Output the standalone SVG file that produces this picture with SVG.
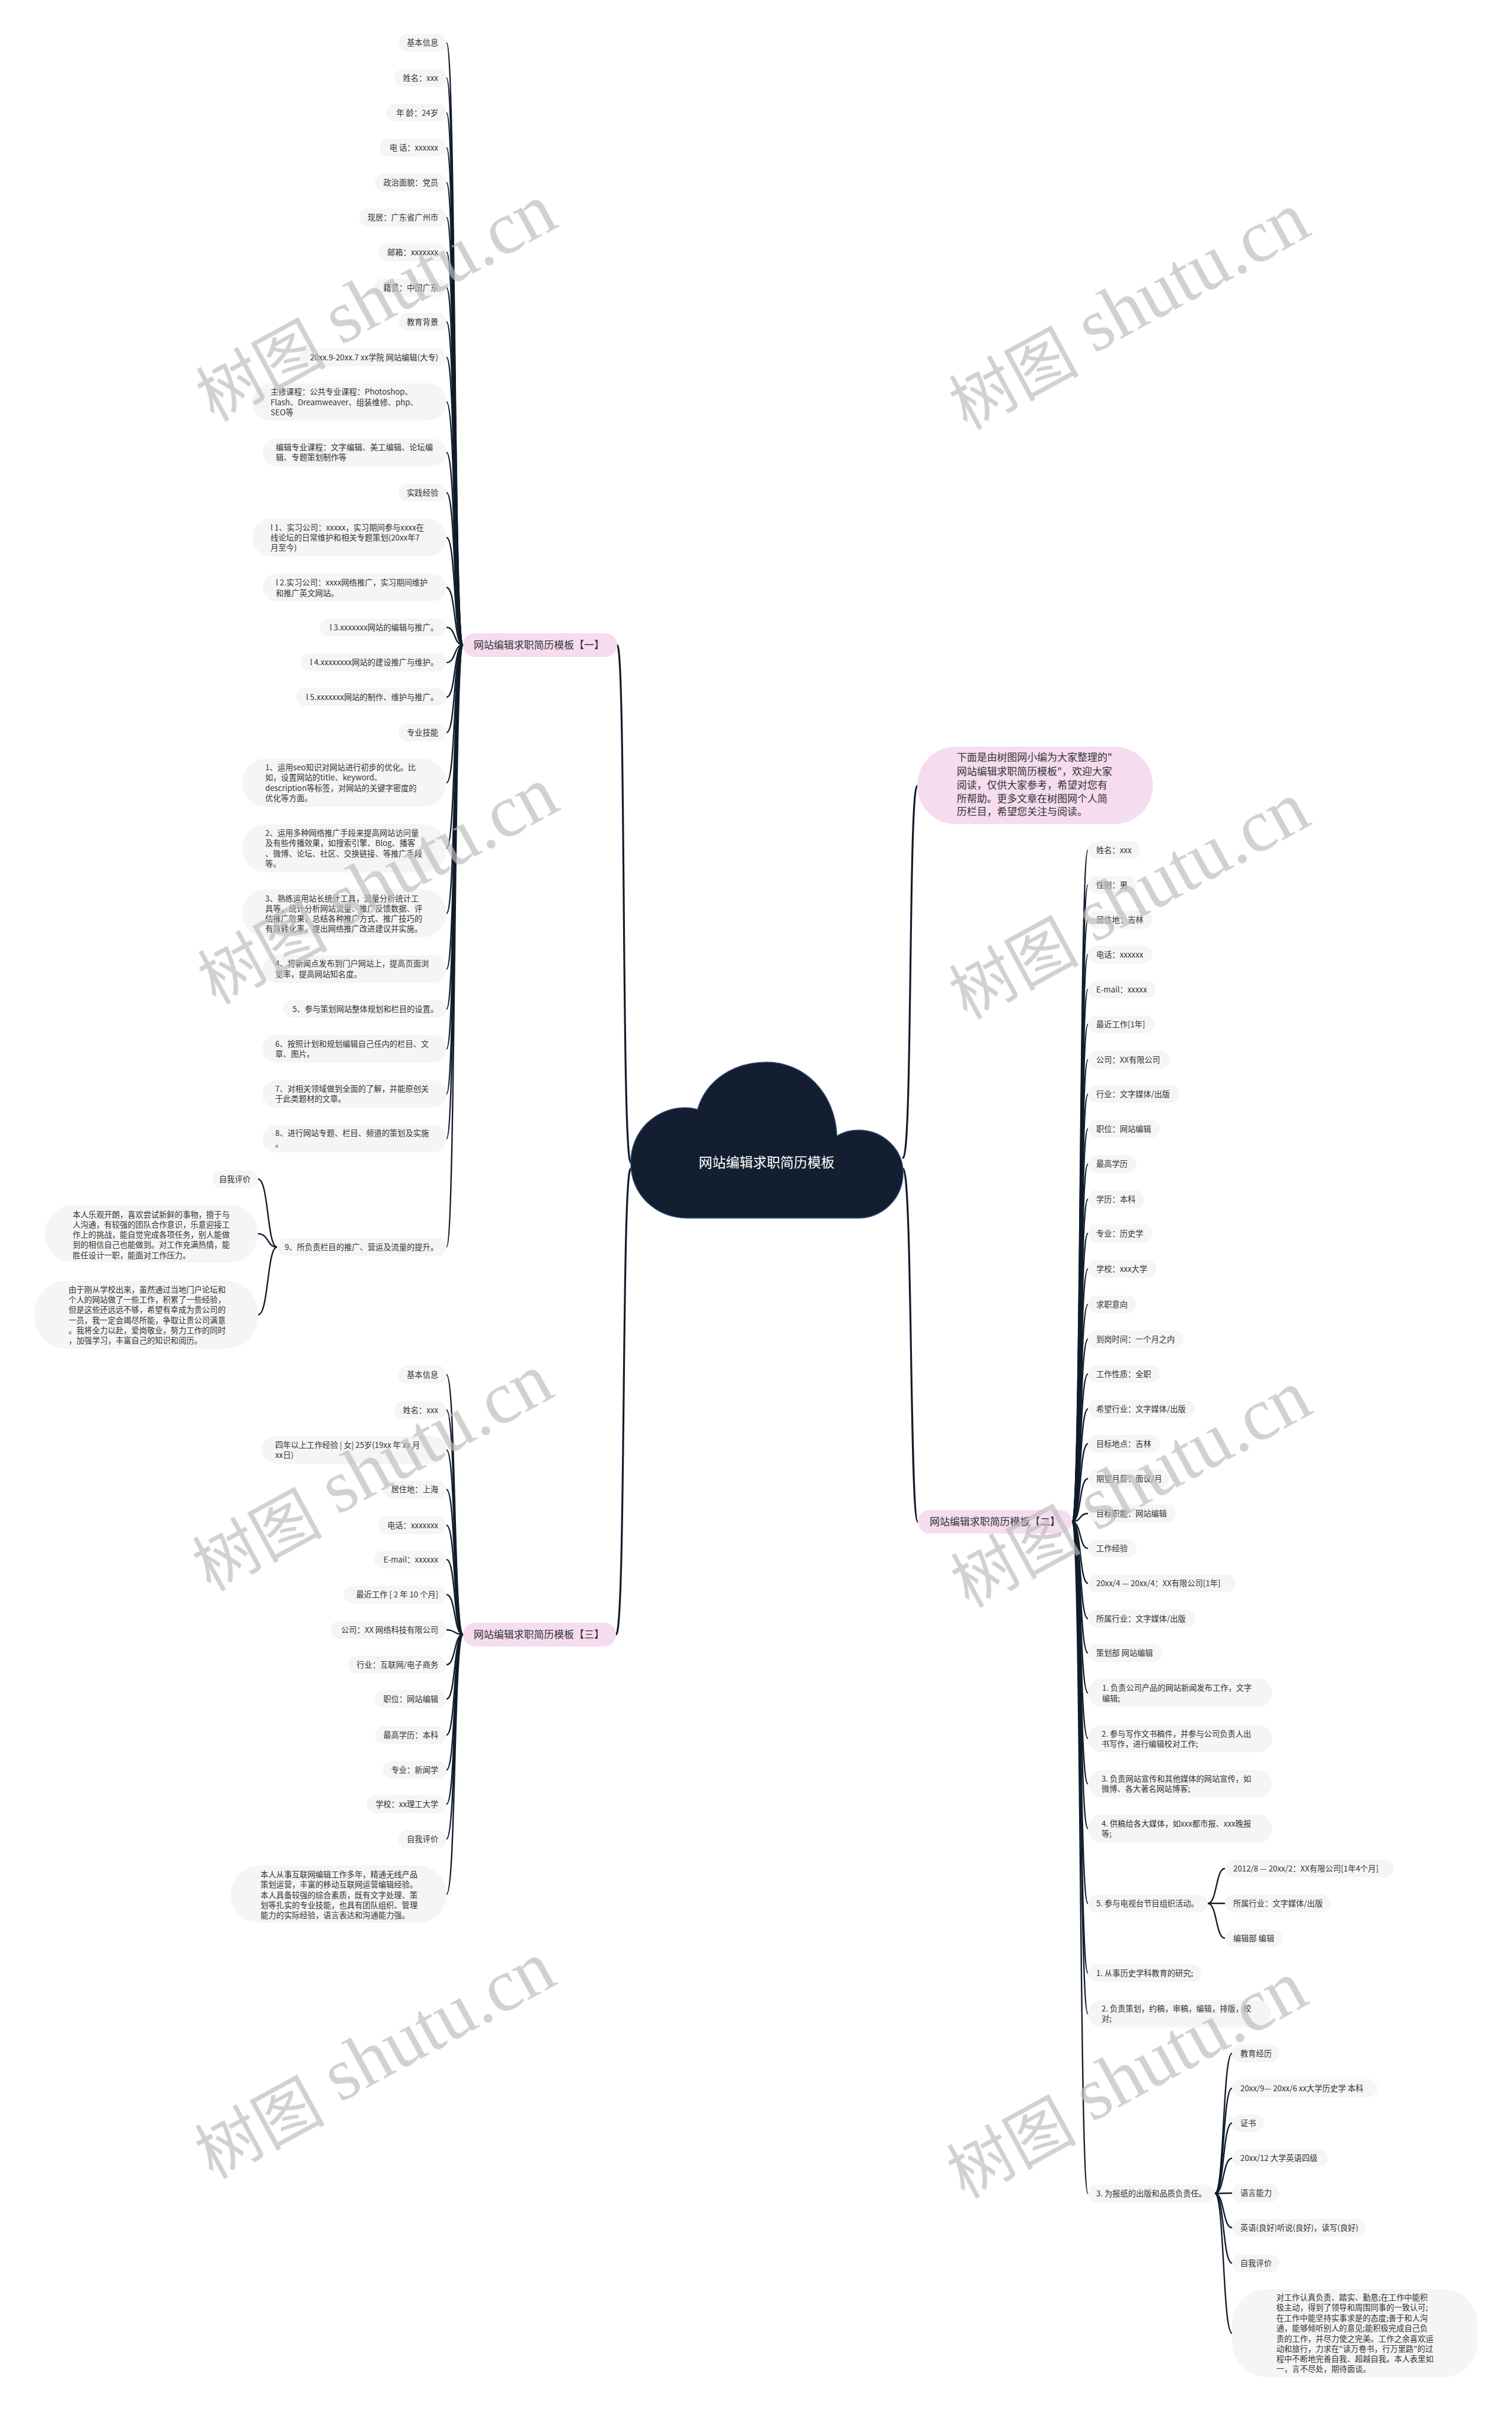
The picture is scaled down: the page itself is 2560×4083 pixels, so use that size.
<svg xmlns="http://www.w3.org/2000/svg" width="2560" height="4083" viewBox="0 0 2560 4083">
<style>
.t{font-family:"Noto Sans CJK SC","Noto Sans",sans-serif;font-size:13.3px;fill:#333}
.e{text-anchor:end}
.lf{fill:#f5f5f5}
.tp{fill:#f6dcef}
.tt{font-family:"Noto Sans CJK SC","Noto Sans",sans-serif;font-size:17px;fill:#333}
.ln path{fill:none;stroke:#111c2b;stroke-width:2.4;stroke-linecap:round}
.ln path.m{stroke-width:3.2}
.wm{font-family:"Noto Sans CJK SC",sans-serif;font-size:110px}
.wl{font-family:"Liberation Serif",serif;font-size:126px}
</style>
<rect width="2560" height="4083" fill="#ffffff"/>

<g class="ln" id="connectors">
<path class="m" d="M1068 1968 C1052 1968 1060 1092 1045 1092"/>
<path class="m" d="M1068 1978 C1052 1978 1060 2767 1043 2767"/>
<path class="m" d="M1529 1960 C1545 1960 1538 1330 1553 1330"/>
<path class="m" d="M1529 1978 C1545 1978 1540 2576 1554 2576"/>
<path d="M784 1092 C768 1092 772 72.5 756 72.5"/>
<path d="M784 1092 C768 1092 772 132 756 132"/>
<path d="M784 1092 C768 1092 772 191 756 191"/>
<path d="M784 1092 C768 1092 772 250 756 250"/>
<path d="M784 1092 C768 1092 772 309 756 309"/>
<path d="M784 1092 C768 1092 772 368 756 368"/>
<path d="M784 1092 C768 1092 772 427 756 427"/>
<path d="M784 1092 C768 1092 772 487 756 487"/>
<path d="M784 1092 C768 1092 772 545 756 545"/>
<path d="M784 1092 C768 1092 772 605 756 605"/>
<path d="M784 1092 C768 1092 772 680.5 756 680.5"/>
<path d="M784 1092 C768 1092 772 766 756 766"/>
<path d="M784 1092 C768 1092 772 834 756 834"/>
<path d="M784 1092 C768 1092 772 910 756 910"/>
<path d="M784 1092 C768 1092 772 994.5 756 994.5"/>
<path d="M784 1092 C768 1092 772 1062 756 1062"/>
<path d="M784 1092 C768 1092 772 1121.5 756 1121.5"/>
<path d="M784 1092 C768 1092 772 1180 756 1180"/>
<path d="M784 1092 C768 1092 772 1240 756 1240"/>
<path d="M784 1092 C768 1092 772 1325 756 1325"/>
<path d="M784 1092 C768 1092 772 1436 756 1436"/>
<path d="M784 1092 C768 1092 772 1546 756 1546"/>
<path d="M784 1092 C768 1092 772 1640.5 756 1640.5"/>
<path d="M784 1092 C768 1092 772 1708 756 1708"/>
<path d="M784 1092 C768 1092 772 1775.5 756 1775.5"/>
<path d="M784 1092 C768 1092 772 1851.5 756 1851.5"/>
<path d="M784 1092 C768 1092 772 1927.5 756 1927.5"/>
<path d="M784 1092 C768 1092 772 2111 756 2111"/>
<path d="M469 2111 C452 2111 455 1996 437 1996"/>
<path d="M469 2111 C452 2111 455 2088.5 437 2088.5"/>
<path d="M469 2111 C452 2111 455 2225.5 437 2225.5"/>
<path d="M784 2767 C768 2767 772 2327 756 2327"/>
<path d="M784 2767 C768 2767 772 2387 756 2387"/>
<path d="M784 2767 C768 2767 772 2454.5 756 2454.5"/>
<path d="M784 2767 C768 2767 772 2521.5 756 2521.5"/>
<path d="M784 2767 C768 2767 772 2582 756 2582"/>
<path d="M784 2767 C768 2767 772 2640 756 2640"/>
<path d="M784 2767 C768 2767 772 2699.5 756 2699.5"/>
<path d="M784 2767 C768 2767 772 2759 756 2759"/>
<path d="M784 2767 C768 2767 772 2818 756 2818"/>
<path d="M784 2767 C768 2767 772 2876 756 2876"/>
<path d="M784 2767 C768 2767 772 2937 756 2937"/>
<path d="M784 2767 C768 2767 772 2996 756 2996"/>
<path d="M784 2767 C768 2767 772 3054 756 3054"/>
<path d="M784 2767 C768 2767 772 3113 756 3113"/>
<path d="M784 2767 C768 2767 772 3206.5 756 3206.5"/>
<path d="M1815 2576 C1831 2576 1827 1439 1842 1439"/>
<path d="M1815 2576 C1831 2576 1827 1498 1842 1498"/>
<path d="M1815 2576 C1831 2576 1827 1557 1842 1557"/>
<path d="M1815 2576 C1831 2576 1827 1616 1842 1616"/>
<path d="M1815 2576 C1831 2576 1827 1675 1842 1675"/>
<path d="M1815 2576 C1831 2576 1827 1734 1842 1734"/>
<path d="M1815 2576 C1831 2576 1827 1794 1842 1794"/>
<path d="M1815 2576 C1831 2576 1827 1852 1842 1852"/>
<path d="M1815 2576 C1831 2576 1827 1911 1842 1911"/>
<path d="M1815 2576 C1831 2576 1827 1970.5 1842 1970.5"/>
<path d="M1815 2576 C1831 2576 1827 2030 1842 2030"/>
<path d="M1815 2576 C1831 2576 1827 2088 1842 2088"/>
<path d="M1815 2576 C1831 2576 1827 2148 1842 2148"/>
<path d="M1815 2576 C1831 2576 1827 2208 1842 2208"/>
<path d="M1815 2576 C1831 2576 1827 2267 1842 2267"/>
<path d="M1815 2576 C1831 2576 1827 2326 1842 2326"/>
<path d="M1815 2576 C1831 2576 1827 2385 1842 2385"/>
<path d="M1815 2576 C1831 2576 1827 2444 1842 2444"/>
<path d="M1815 2576 C1831 2576 1827 2503 1842 2503"/>
<path d="M1815 2576 C1831 2576 1827 2562 1842 2562"/>
<path d="M1815 2576 C1831 2576 1827 2621 1842 2621"/>
<path d="M1815 2576 C1831 2576 1827 2680 1842 2680"/>
<path d="M1815 2576 C1831 2576 1827 2740 1842 2740"/>
<path d="M1815 2576 C1831 2576 1827 2798 1842 2798"/>
<path d="M1815 2576 C1831 2576 1827 2865.5 1842 2865.5"/>
<path d="M1815 2576 C1831 2576 1827 2943 1842 2943"/>
<path d="M1815 2576 C1831 2576 1827 3019.5 1842 3019.5"/>
<path d="M1815 2576 C1831 2576 1827 3095.5 1842 3095.5"/>
<path d="M1815 2576 C1831 2576 1827 3222 1842 3222"/>
<path d="M1815 2576 C1831 2576 1827 3340 1842 3340"/>
<path d="M1815 2576 C1831 2576 1827 3409 1842 3409"/>
<path d="M1815 2576 C1831 2576 1827 3713 1842 3713"/>
<path d="M2045 3222 C2061 3222 2058 3163 2074 3163"/>
<path d="M2045 3222 L2074 3222"/>
<path d="M2045 3222 C2061 3222 2058 3281 2074 3281"/>
<path d="M2057 3713 C2073 3713 2070 3476 2086 3476"/>
<path d="M2057 3713 C2073 3713 2070 3535 2086 3535"/>
<path d="M2057 3713 C2073 3713 2070 3594 2086 3594"/>
<path d="M2057 3713 C2073 3713 2070 3653.5 2086 3653.5"/>
<path d="M2057 3713 C2073 3713 2070 3712.5 2086 3712.5"/>
<path d="M2057 3713 C2073 3713 2070 3771 2086 3771"/>
<path d="M2057 3713 C2073 3713 2070 3831 2086 3831"/>
<path d="M2057 3713 C2073 3713 2070 3949.5 2086 3949.5"/>
</g>

<g id="root">
<path d="M1165 2062 C1110 2062 1068 2022 1068 1968 C1068 1915 1110 1875 1160 1875 C1167 1875 1174 1876 1181 1878 C1195 1830 1240 1798 1298 1798 C1362 1798 1414 1850 1417 1923 C1428 1916 1440 1913 1453 1913 C1495 1913 1529 1945 1529 1985 C1529 2028 1495 2062 1452 2062 Z" fill="#131f30" stroke="#2d4a78" stroke-width="1.5"/>
<text x="1298" y="1976" text-anchor="middle" font-family="Noto Sans CJK SC, sans-serif" font-size="23" fill="#ffffff">网站编辑求职简历模板</text>
</g>

<g id="intro">
<rect class="tp" x="1553" y="1264" width="399" height="131" rx="65"/>
<text class="tt" x="1620" y="1288">下面是由树图网小编为大家整理的"</text>
<text class="tt" x="1620" y="1312">网站编辑求职简历模板"，欢迎大家</text>
<text class="tt" x="1620" y="1335">阅读，仅供大家参考，希望对您有</text>
<text class="tt" x="1620" y="1358">所帮助。更多文章在树图网个人简</text>
<text class="tt" x="1620" y="1380">历栏目，希望您关注与阅读。</text>
</g>

<g id="topic1"><rect class="tp" x="784" y="1072" width="261" height="40" rx="20"/><text class="tt" x="802" y="1098">网站编辑求职简历模板【一】</text></g>
<g id="topic2"><rect class="tp" x="1554" y="2556" width="261" height="40" rx="20"/><text class="tt" x="1574" y="2582">网站编辑求职简历模板【二】</text></g>
<g id="topic3"><rect class="tp" x="784" y="2747" width="259" height="40" rx="20"/><text class="tt" x="802" y="2773">网站编辑求职简历模板【三】</text></g>

<g id="b1-1"><rect class="lf" x="675" y="57.5" width="81" height="30" rx="15"/><text class="t e" x="742" y="77">基本信息</text></g>
<g id="b1-2"><rect class="lf" x="668" y="117" width="88" height="30" rx="15"/><text class="t e" x="742" y="136.5">姓名：xxx</text></g>
<g id="b1-3"><rect class="lf" x="654" y="176" width="102" height="30" rx="15"/><text class="t e" x="742" y="195.5">年 龄：24岁</text></g>
<g id="b1-4"><rect class="lf" x="643" y="235" width="113" height="30" rx="15"/><text class="t e" x="742" y="254.5">电 话：xxxxxx</text></g>
<g id="b1-5"><rect class="lf" x="634" y="294" width="122" height="30" rx="15"/><text class="t e" x="742" y="313.5">政治面貌：党员</text></g>
<g id="b1-6"><rect class="lf" x="608" y="353" width="148" height="30" rx="15"/><text class="t e" x="742" y="372.5">现居：广东省广州市</text></g>
<g id="b1-7"><rect class="lf" x="640" y="412" width="116" height="30" rx="15"/><text class="t e" x="742" y="431.5">邮箱：xxxxxxx</text></g>
<g id="b1-8"><rect class="lf" x="634" y="472" width="122" height="30" rx="15"/><text class="t e" x="742" y="491.5">籍贯：中国广东</text></g>
<g id="b1-9"><rect class="lf" x="675" y="530" width="81" height="30" rx="15"/><text class="t e" x="742" y="549.5">教育背景</text></g>
<g id="b1-10"><rect class="lf" x="505" y="590" width="251" height="30" rx="15"/><text class="t e" x="742" y="609.5">20xx.9-20xx.7 xx学院 网站编辑(大专)</text></g>
<g id="b1-11"><rect class="lf" x="427" y="649" width="329" height="63" rx="31.5"/><text class="t" x="458" y="668">主修课程：公共专业课程：Photoshop、</text><text class="t" x="458" y="685.5">Flash、Dreamweaver、组装维修、php、</text><text class="t" x="458" y="702.5">SEO等</text></g>
<g id="b1-12"><rect class="lf" x="445" y="743" width="311" height="46" rx="23"/><text class="t" x="467" y="761.5">编辑专业课程：文字编辑、美工编辑、论坛编</text><text class="t" x="467" y="778.5">辑、专题策划制作等</text></g>
<g id="b1-13"><rect class="lf" x="675" y="819" width="81" height="30" rx="15"/><text class="t e" x="742" y="838.5">实践经验</text></g>
<g id="b1-14"><rect class="lf" x="427" y="878" width="329" height="64" rx="32"/><text class="t" x="458" y="897.5">l 1、实习公司：xxxxx，实习期间参与xxxx在</text><text class="t" x="458" y="914.5">线论坛的日常维护和相关专题策划(20xx年7</text><text class="t" x="458" y="931.5">月至今)</text></g>
<g id="b1-15"><rect class="lf" x="445" y="971.5" width="311" height="46" rx="23"/><text class="t" x="467" y="990.5">l 2.实习公司：xxxx网络推广，实习期间维护</text><text class="t" x="467" y="1008.5">和推广英文网站。</text></g>
<g id="b1-16"><rect class="lf" x="542" y="1047" width="214" height="30" rx="15"/><text class="t e" x="742" y="1066.5">l 3.xxxxxxx网站的编辑与推广。</text></g>
<g id="b1-17"><rect class="lf" x="509" y="1106.5" width="247" height="30" rx="15"/><text class="t e" x="742" y="1126">l 4.xxxxxxxx网站的建设推广与维护。</text></g>
<g id="b1-18"><rect class="lf" x="501" y="1165" width="255" height="30" rx="15"/><text class="t e" x="742" y="1184.5">l 5.xxxxxxx网站的制作、维护与推广。</text></g>
<g id="b1-19"><rect class="lf" x="675" y="1225" width="81" height="30" rx="15"/><text class="t e" x="742" y="1244.5">专业技能</text></g>
<g id="b1-20"><rect class="lf" x="410" y="1284" width="346" height="82" rx="41"/><text class="t" x="449" y="1304">1、运用seo知识对网站进行初步的优化。比</text><text class="t" x="449" y="1321">如，设置网站的title、keyword、</text><text class="t" x="449" y="1338.5">description等标签，对网站的关键字密度的</text><text class="t" x="449" y="1355.5">优化等方面。</text></g>
<g id="b1-21"><rect class="lf" x="410" y="1395" width="346" height="82" rx="41"/><text class="t" x="449" y="1414.5">2、运用多种网络推广手段来提高网站访问量</text><text class="t" x="449" y="1431.5">及有些传播效果，如搜索引擎、Blog、播客</text><text class="t" x="449" y="1449.5">、微博、论坛、社区、交换链接、等推广手段</text><text class="t" x="449" y="1466.5">等。</text></g>
<g id="b1-22"><rect class="lf" x="410" y="1505" width="346" height="82" rx="41"/><text class="t" x="449" y="1525.5">3、熟练运用站长统计工具，流量分析统计工</text><text class="t" x="449" y="1542.5">具等，统计分析网站流量、推广反馈数据、评</text><text class="t" x="449" y="1559.5">估推广效果，总结各种推广方式、推广技巧的</text><text class="t" x="449" y="1576.5">有效转化率，提出网络推广改进建议并实施。</text></g>
<g id="b1-23"><rect class="lf" x="444" y="1617" width="312" height="47" rx="23.5"/><text class="t" x="466" y="1635.5">4、将新闻点发布到门户网站上，提高页面浏</text><text class="t" x="466" y="1653.5">览率，提高网站知名度。</text></g>
<g id="b1-24"><rect class="lf" x="480" y="1693" width="276" height="30" rx="15"/><text class="t e" x="742" y="1712.5">5、参与策划网站整体规划和栏目的设置。</text></g>
<g id="b1-25"><rect class="lf" x="444" y="1752" width="312" height="47" rx="23.5"/><text class="t" x="466" y="1771.5">6、按照计划和规划编辑自己任内的栏目、文</text><text class="t" x="466" y="1788.5">章、图片。</text></g>
<g id="b1-26"><rect class="lf" x="444" y="1828" width="312" height="47" rx="23.5"/><text class="t" x="466" y="1847.5">7、对相关领域做到全面的了解，并能原创关</text><text class="t" x="466" y="1864.5">于此类题材的文章。</text></g>
<g id="b1-27"><rect class="lf" x="444" y="1904" width="312" height="47" rx="23.5"/><text class="t" x="466" y="1923">8、进行网站专题、栏目、频道的策划及实施</text><text class="t" x="466" y="1940.5">。</text></g>
<g id="b1-28"><rect class="lf" x="469" y="2096" width="287" height="30" rx="15"/><text class="t e" x="742" y="2115.5">9、所负责栏目的推广、营运及流量的提升。</text></g>
<g id="b1-28a"><rect class="lf" x="360" y="1981" width="77" height="30" rx="15"/><text class="t e" x="424" y="2000.5">自我评价</text></g>
<g id="b1-28b"><rect class="lf" x="76" y="2040" width="361" height="97" rx="48"/><text class="t" x="123" y="2060.5">本人乐观开朗，喜欢尝试新鲜的事物，擅于与</text><text class="t" x="123" y="2077.8">人沟通，有较强的团队合作意识，乐意迎接工</text><text class="t" x="123" y="2095.1">作上的挑战，能自觉完成各项任务，别人能做</text><text class="t" x="123" y="2112.4">到的相信自己也能做到。对工作充满热情，能</text><text class="t" x="123" y="2129.7">胜任设计一职，能面对工作压力。</text></g>
<g id="b1-28c"><rect class="lf" x="58" y="2168" width="379" height="115" rx="55"/><text class="t" x="116" y="2187.5">由于刚从学校出来，虽然通过当地门户论坛和</text><text class="t" x="116" y="2204.5">个人的网站做了一些工作，积累了一些经验，</text><text class="t" x="116" y="2221.5">但是这些还远远不够，希望有幸成为贵公司的</text><text class="t" x="116" y="2239.5">一员，我一定会竭尽所能，争取让贵公司满意</text><text class="t" x="116" y="2256.5">。我将全力以赴，爱岗敬业，努力工作的同时</text><text class="t" x="116" y="2273.5">，加强学习，丰富自己的知识和阅历。</text></g>

<g id="b3-1"><rect class="lf" x="674" y="2312" width="82" height="30" rx="15"/><text class="t e" x="742" y="2331.5">基本信息</text></g>
<g id="b3-2"><rect class="lf" x="667" y="2372" width="89" height="30" rx="15"/><text class="t e" x="742" y="2391.5">姓名：xxx</text></g>
<g id="b3-3"><rect class="lf" x="443" y="2431" width="313" height="47" rx="23.5"/><text class="t" x="466" y="2450.5">四年以上工作经验 | 女| 25岁(19xx 年 xx 月</text><text class="t" x="466" y="2467.5">xx日)</text></g>
<g id="b3-4"><rect class="lf" x="649" y="2506.5" width="107" height="30" rx="15"/><text class="t e" x="742" y="2526">居住地：上海</text></g>
<g id="b3-5"><rect class="lf" x="641" y="2567" width="115" height="30" rx="15"/><text class="t e" x="742" y="2586.5">电话：xxxxxxx</text></g>
<g id="b3-6"><rect class="lf" x="634" y="2625" width="122" height="30" rx="15"/><text class="t e" x="742" y="2644.5">E-mail：xxxxxx</text></g>
<g id="b3-7"><rect class="lf" x="582" y="2684.5" width="174" height="30" rx="15"/><text class="t e" x="742" y="2704">最近工作 [ 2 年 10 个月]</text></g>
<g id="b3-8"><rect class="lf" x="560" y="2744" width="196" height="30" rx="15"/><text class="t e" x="742" y="2763.5">公司：XX 网络科技有限公司</text></g>
<g id="b3-9"><rect class="lf" x="589" y="2803" width="167" height="30" rx="15"/><text class="t e" x="742" y="2822.5">行业：互联网/电子商务</text></g>
<g id="b3-10"><rect class="lf" x="635" y="2861" width="121" height="30" rx="15"/><text class="t e" x="742" y="2880.5">职位：网站编辑</text></g>
<g id="b3-11"><rect class="lf" x="635" y="2922" width="121" height="30" rx="15"/><text class="t e" x="742" y="2941.5">最高学历：本科</text></g>
<g id="b3-12"><rect class="lf" x="648" y="2981" width="108" height="30" rx="15"/><text class="t e" x="742" y="3000.5">专业：新闻学</text></g>
<g id="b3-13"><rect class="lf" x="621" y="3039" width="135" height="30" rx="15"/><text class="t e" x="742" y="3058.5">学校：xx理工大学</text></g>
<g id="b3-14"><rect class="lf" x="674" y="3098" width="82" height="30" rx="15"/><text class="t e" x="742" y="3117.5">自我评价</text></g>
<g id="b3-15"><rect class="lf" x="391" y="3158" width="365" height="97" rx="48"/><text class="t" x="441" y="3177.5">本人从事互联网编辑工作多年，精通无线产品</text><text class="t" x="441" y="3195">策划运营，丰富的移动互联网运营编辑经验。</text><text class="t" x="441" y="3212.5">本人具备较强的综合素质，既有文字处理、策</text><text class="t" x="441" y="3229.5">划等扎实的专业技能，也具有团队组织、管理</text><text class="t" x="441" y="3246.5">能力的实际经验，语言表达和沟通能力强。</text></g>

<g id="b2-1"><rect class="lf" x="1842" y="1424" width="89" height="30" rx="15"/><text class="t" x="1856" y="1443.5">姓名：xxx</text></g>
<g id="b2-2"><rect class="lf" x="1842" y="1483" width="82" height="30" rx="15"/><text class="t" x="1856" y="1502.5">性别：男</text></g>
<g id="b2-3"><rect class="lf" x="1842" y="1542" width="109" height="30" rx="15"/><text class="t" x="1856" y="1561.5">居住地：吉林</text></g>
<g id="b2-4"><rect class="lf" x="1842" y="1601" width="109" height="30" rx="15"/><text class="t" x="1856" y="1620.5">电话：xxxxxx</text></g>
<g id="b2-5"><rect class="lf" x="1842" y="1660" width="115" height="30" rx="15"/><text class="t" x="1856" y="1679.5">E-mail：xxxxx</text></g>
<g id="b2-6"><rect class="lf" x="1842" y="1719" width="112" height="30" rx="15"/><text class="t" x="1856" y="1738.5">最近工作[1年]</text></g>
<g id="b2-7"><rect class="lf" x="1842" y="1779" width="139" height="30" rx="15"/><text class="t" x="1856" y="1798.5">公司：XX有限公司</text></g>
<g id="b2-8"><rect class="lf" x="1842" y="1837" width="154" height="30" rx="15"/><text class="t" x="1856" y="1856.5">行业：文字媒体/出版</text></g>
<g id="b2-9"><rect class="lf" x="1842" y="1896" width="122" height="30" rx="15"/><text class="t" x="1856" y="1915.5">职位：网站编辑</text></g>
<g id="b2-10"><rect class="lf" x="1842" y="1955.5" width="82" height="30" rx="15"/><text class="t" x="1856" y="1975">最高学历</text></g>
<g id="b2-11"><rect class="lf" x="1842" y="2015" width="95" height="30" rx="15"/><text class="t" x="1856" y="2034.5">学历：本科</text></g>
<g id="b2-12"><rect class="lf" x="1842" y="2073" width="109" height="30" rx="15"/><text class="t" x="1856" y="2092.5">专业：历史学</text></g>
<g id="b2-13"><rect class="lf" x="1842" y="2133" width="116" height="30" rx="15"/><text class="t" x="1856" y="2152.5">学校：xxx大学</text></g>
<g id="b2-14"><rect class="lf" x="1842" y="2193" width="82" height="30" rx="15"/><text class="t" x="1856" y="2212.5">求职意向</text></g>
<g id="b2-15"><rect class="lf" x="1842" y="2252" width="162" height="30" rx="15"/><text class="t" x="1856" y="2271.5">到岗时间：一个月之内</text></g>
<g id="b2-16"><rect class="lf" x="1842" y="2311" width="122" height="30" rx="15"/><text class="t" x="1856" y="2330.5">工作性质：全职</text></g>
<g id="b2-17"><rect class="lf" x="1842" y="2370" width="181" height="30" rx="15"/><text class="t" x="1856" y="2389.5">希望行业：文字媒体/出版</text></g>
<g id="b2-18"><rect class="lf" x="1842" y="2429" width="122" height="30" rx="15"/><text class="t" x="1856" y="2448.5">目标地点：吉林</text></g>
<g id="b2-19"><rect class="lf" x="1842" y="2488" width="137" height="30" rx="15"/><text class="t" x="1856" y="2507.5">期望月薪：面议/月</text></g>
<g id="b2-20"><rect class="lf" x="1842" y="2547" width="149" height="30" rx="15"/><text class="t" x="1856" y="2566.5">目标职能：网站编辑</text></g>
<g id="b2-21"><rect class="lf" x="1842" y="2606" width="82" height="30" rx="15"/><text class="t" x="1856" y="2625.5">工作经验</text></g>
<g id="b2-22"><rect class="lf" x="1842" y="2665" width="250" height="30" rx="15"/><text class="t" x="1856" y="2684.5">20xx/4 — 20xx/4：XX有限公司[1年]</text></g>
<g id="b2-23"><rect class="lf" x="1842" y="2725" width="181" height="30" rx="15"/><text class="t" x="1856" y="2744.5">所属行业：文字媒体/出版</text></g>
<g id="b2-24"><rect class="lf" x="1842" y="2783" width="126" height="30" rx="15"/><text class="t" x="1856" y="2802.5">策划部 网站编辑</text></g>
<g id="b2-25"><rect class="lf" x="1842" y="2842" width="312" height="47" rx="23.5"/><text class="t" x="1866" y="2861.5">1. 负责公司产品的网站新闻发布工作，文字</text><text class="t" x="1866" y="2879.5">编辑;</text></g>
<g id="b2-26"><rect class="lf" x="1842" y="2920" width="312" height="46" rx="23"/><text class="t" x="1865" y="2939.5">2. 参与写作文书稿件，并参与公司负责人出</text><text class="t" x="1865" y="2956.5">书写作，进行编辑校对工作;</text></g>
<g id="b2-27"><rect class="lf" x="1842" y="2996" width="312" height="47" rx="23.5"/><text class="t" x="1865" y="3015.5">3. 负责网站宣传和其他媒体的网站宣传，如</text><text class="t" x="1865" y="3032.5">微博、各大著名网站博客;</text></g>
<g id="b2-28"><rect class="lf" x="1842" y="3072" width="312" height="47" rx="23.5"/><text class="t" x="1865" y="3091.5">4. 供稿给各大媒体，如xxx都市报、xxx晚报</text><text class="t" x="1865" y="3108.5">等;</text></g>
<g id="b2-29"><rect class="lf" x="1842" y="3207" width="203" height="30" rx="15"/><text class="t" x="1856" y="3226.5">5. 参与电视台节目组织活动。</text></g>
<g id="b2-29a"><rect class="lf" x="2074" y="3148" width="286" height="30" rx="15"/><text class="t" x="2088" y="3167.5">2012/8 — 20xx/2：XX有限公司[1年4个月]</text></g>
<g id="b2-29b"><rect class="lf" x="2074" y="3207" width="178" height="30" rx="15"/><text class="t" x="2088" y="3226.5">所属行业：文字媒体/出版</text></g>
<g id="b2-29c"><rect class="lf" x="2074" y="3266" width="97" height="30" rx="15"/><text class="t" x="2088" y="3285.5">编辑部 编辑</text></g>
<g id="b2-30"><rect class="lf" x="1842" y="3325" width="192" height="30" rx="15"/><text class="t" x="1856" y="3344.5">1. 从事历史学科教育的研究;</text></g>
<g id="b2-31"><rect class="lf" x="1842" y="3386" width="310" height="46" rx="23"/><text class="t" x="1865" y="3404.5">2. 负责策划，约稿，审稿，编辑，排版，校</text><text class="t" x="1865" y="3421.5">对;</text></g>
<g id="b2-32"><rect class="lf" x="1842" y="3698" width="215" height="30" rx="15"/><text class="t" x="1856" y="3717.5">3. 为报纸的出版和品质负责任。</text></g>
<g id="b2-32a"><rect class="lf" x="2086" y="3461" width="80" height="30" rx="15"/><text class="t" x="2100" y="3480.5">教育经历</text></g>
<g id="b2-32b"><rect class="lf" x="2086" y="3520" width="246" height="30" rx="15"/><text class="t" x="2100" y="3539.5">20xx/9— 20xx/6 xx大学历史学 本科</text></g>
<g id="b2-32c"><rect class="lf" x="2086" y="3579" width="54" height="30" rx="15"/><text class="t" x="2100" y="3598.5">证书</text></g>
<g id="b2-32d"><rect class="lf" x="2086" y="3638.5" width="162" height="30" rx="15"/><text class="t" x="2100" y="3658">20xx/12 大学英语四级</text></g>
<g id="b2-32e"><rect class="lf" x="2086" y="3697.5" width="80" height="30" rx="15"/><text class="t" x="2100" y="3717">语言能力</text></g>
<g id="b2-32f"><rect class="lf" x="2086" y="3756" width="227" height="30" rx="15"/><text class="t" x="2100" y="3775.5">英语(良好)听说(良好)，读写(良好)</text></g>
<g id="b2-32g"><rect class="lf" x="2086" y="3816" width="80" height="30" rx="15"/><text class="t" x="2100" y="3835.5">自我评价</text></g>
<g id="b2-32h"><rect class="lf" x="2086" y="3875" width="416" height="149" rx="60"/><text class="t" x="2161" y="3893.5">对工作认真负责、踏实、勤恳;在工作中能积</text><text class="t" x="2161" y="3911">极主动，得到了领导和周围同事的一致认可;</text><text class="t" x="2161" y="3928.5">在工作中能坚持实事求是的态度;善于和人沟</text><text class="t" x="2161" y="3946">通，能够倾听别人的意见;能积极完成自己负</text><text class="t" x="2161" y="3963.5">责的工作，并尽力使之完美。工作之余喜欢运</text><text class="t" x="2161" y="3981">动和旅行，力求在"读万卷书，行万里路"的过</text><text class="t" x="2161" y="3998">程中不断地完善自我、超越自我。本人表里如</text><text class="t" x="2161" y="4015">一，言不尽处，期待面谈。</text></g>

<g id="watermarks" fill="#bdbdbd" opacity="0.7">
<text transform="translate(362,715) rotate(-28.6)"><tspan class="wm">树图</tspan><tspan class="wl" dy="-11"> shutu.cn</tspan></text>
<text transform="translate(365,1702) rotate(-28.6)"><tspan class="wm">树图</tspan><tspan class="wl" dy="-11"> shutu.cn</tspan></text>
<text transform="translate(356,2695) rotate(-28.6)"><tspan class="wm">树图</tspan><tspan class="wl" dy="-11"> shutu.cn</tspan></text>
<text transform="translate(360,3690) rotate(-28.6)"><tspan class="wm">树图</tspan><tspan class="wl" dy="-11"> shutu.cn</tspan></text>
<text transform="translate(1637,729) rotate(-28.6)"><tspan class="wm">树图</tspan><tspan class="wl" dy="-11"> shutu.cn</tspan></text>
<text transform="translate(1637,1727) rotate(-28.6)"><tspan class="wm">树图</tspan><tspan class="wl" dy="-11"> shutu.cn</tspan></text>
<text transform="translate(1640,2723) rotate(-28.6)"><tspan class="wm">树图</tspan><tspan class="wl" dy="-11"> shutu.cn</tspan></text>
<text transform="translate(1633,3723) rotate(-28.6)"><tspan class="wm">树图</tspan><tspan class="wl" dy="-11"> shutu.cn</tspan></text>
</g>
</svg>
